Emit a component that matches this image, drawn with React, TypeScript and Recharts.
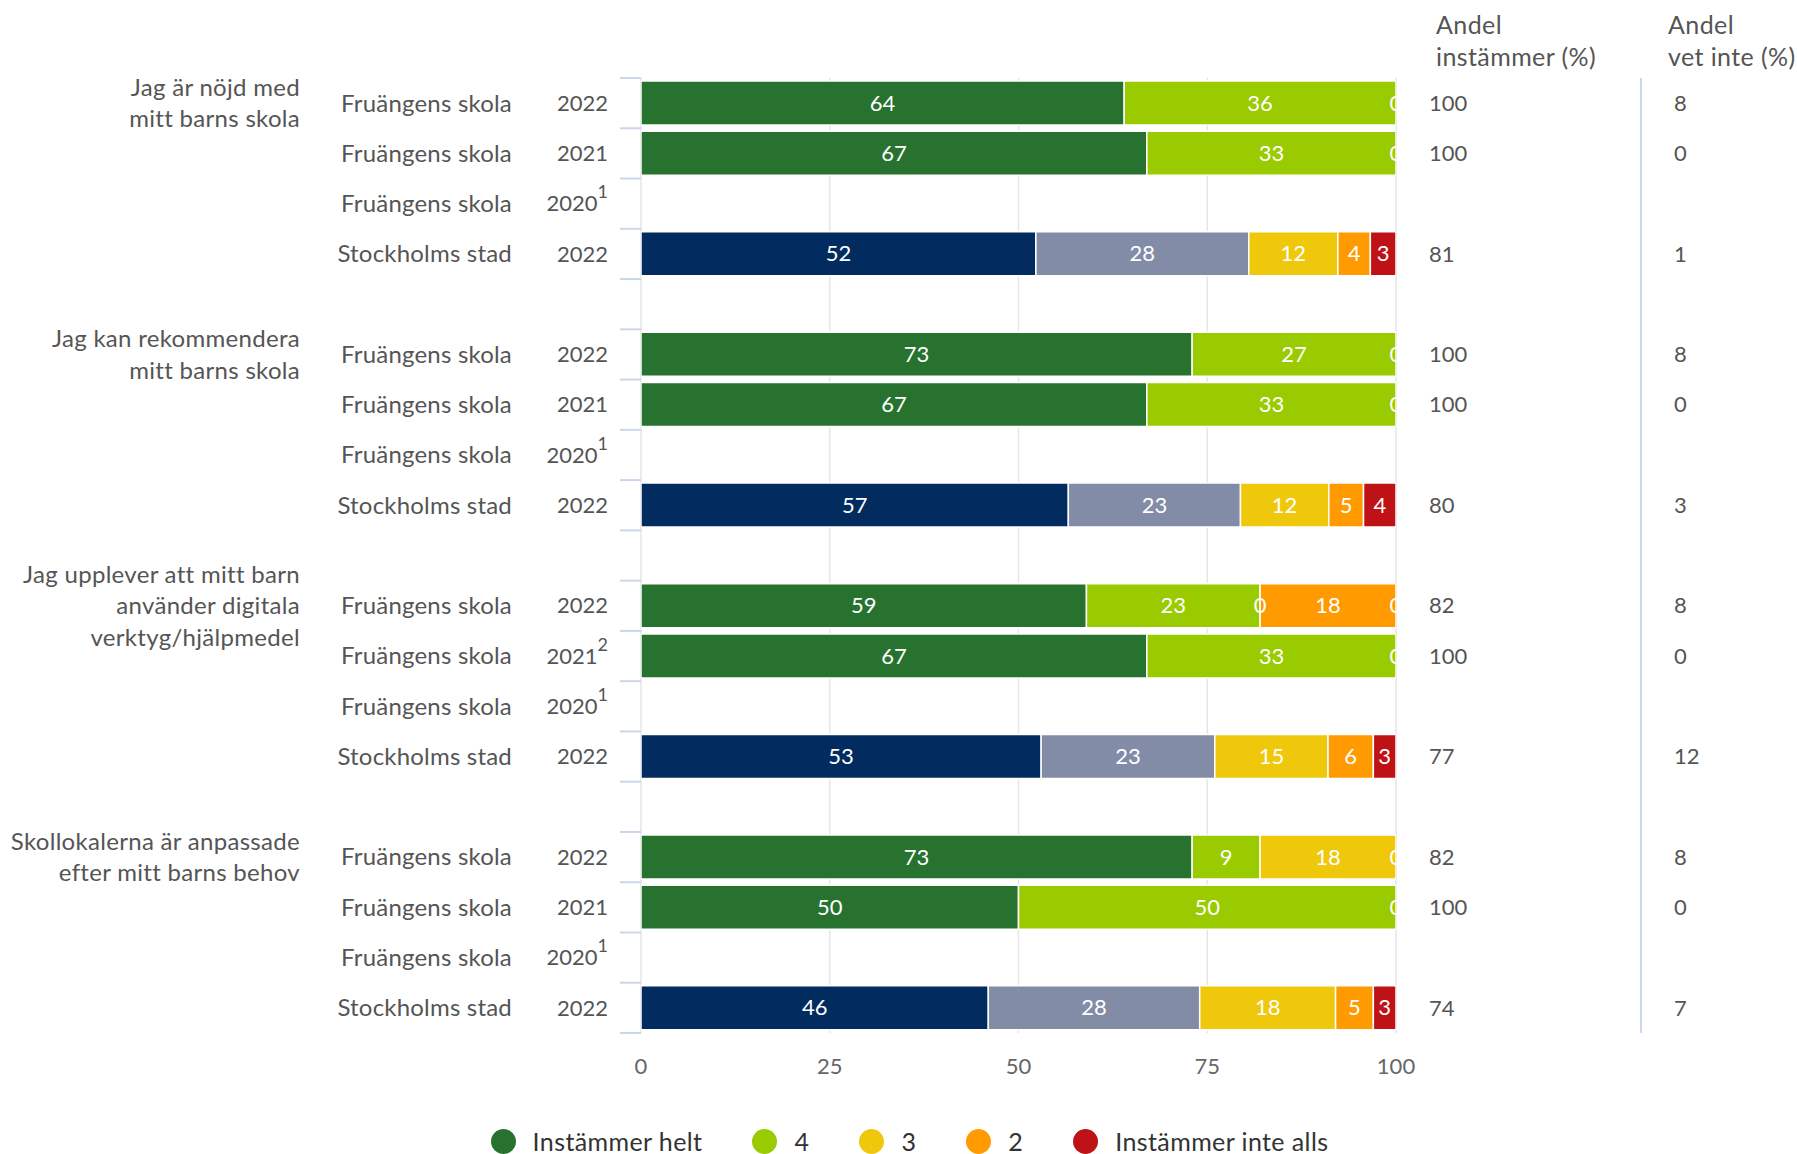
import React from "react";
import { BarChart, Bar, XAxis, YAxis, CartesianGrid, LabelList, Cell, Legend } from "recharts";

const FONT = "Lato, 'Open Sans', sans-serif";
const TEXT = "#555555";

// Questions (group labels), units and years
const questions = [
  ["Jag är nöjd med", "mitt barns skola"],
  ["Jag kan rekommendera", "mitt barns skola"],
  ["Jag upplever att mitt barn", "använder digitala", "verktyg/hjälpmedel"],
  ["Skollokalerna är anpassade", "efter mitt barns behov"],
];
const units = ["Fruängens skola", "Fruängens skola", "Fruängens skola", "Stockholms stad"];
const years = ["2022", "2021", "2020", "2022"];
const footnotes = [
  ["", "", "1", ""],
  ["", "", "1", ""],
  ["", "2", "1", ""],
  ["", "", "1", ""],
];

// Series values, 4 rows per question (2020 has no data)
const helt = [64, 67, null, 52.3, 73, 67, null, 56.6, 59, 67, null, 53, 73, 50, null, 46];
const fyra = [36, 33, null, 28.2, 27, 33, null, 22.8, 23, 33, null, 23, 9, 50, null, 28];
const tre = [0, 0, null, 11.8, 0, 0, null, 11.7, 0, 0, null, 15, 18, 0, null, 18];
const tva = [0, 0, null, 4.3, 0, 0, null, 4.6, 18, 0, null, 6, 0, 0, null, 5];
const inteAlls = [0, 0, null, 3.4, 0, 0, null, 4.3, 0, 0, null, 3, 0, 0, null, 3];

const andelInstammer = [100, 100, null, 81, 100, 100, null, 80, 82, 100, null, 77, 82, 100, null, 74];
const andelVetInte = [8, 0, null, 1, 8, 0, null, 3, 8, 0, null, 12, 8, 0, null, 7];

const xTicks = [0, 25, 50, 75, 100];

const series = [
  { key: "helt", name: "Instämmer helt", color: "#27722f", cityColor: "#022b60", values: helt },
  { key: "fyra", name: "4", color: "#9acb00", cityColor: "#838ca6", values: fyra },
  { key: "tre", name: "3", color: "#f0c80b", cityColor: "#f0c80b", values: tre },
  { key: "tva", name: "2", color: "#ff9a00", cityColor: "#ff9a00", values: tva },
  { key: "inte", name: "Instämmer inte alls", color: "#bf1217", cityColor: "#bf1217", values: inteAlls },
];

type Row = { [k: string]: any };

const rows: Row[] = [];
questions.forEach((q, g) => {
  if (g > 0) rows.push({ key: `gap${g}` });
  units.forEach((unit, r) => {
    const i = g * 4 + r;
    const row: Row = {
      key: `q${g}r${r}`,
      question: r === 0 ? q : null,
      unit,
      year: years[r],
      note: footnotes[g][r],
      city: unit === "Stockholms stad",
      ins: andelInstammer[i],
      vet: andelVetInte[i],
    };
    series.forEach((s) => {
      row[s.key] = s.values[i];
    });
    rows.push(row);
  });
});

const findRow = (value: string) => rows.find((r) => r.key === value) || {};

function LeftTick(props: any) {
  const { x, y, payload, index } = props;
  const row = findRow(payload.value);
  const half = payload.offset || 25.1;
  const last = index === rows.length - 1;
  const lines: string[] | null = row.question;
  return (
    <g fontFamily={FONT} fill={TEXT}>
      <line x1={x - 21} x2={x} y1={y - half} y2={y - half} stroke="#ccd6eb" strokeWidth={2} />
      {last && <line x1={x - 21} x2={x} y1={y + half} y2={y + half} stroke="#ccd6eb" strokeWidth={2} />}
      {row.unit && (
        <text x={x - 129} y={y} dy="0.35em" textAnchor="end" fontSize={24} letterSpacing={0.2}>
          {row.unit}
        </text>
      )}
      {row.year && (
        <text x={x - 33} y={y} dy="0.35em" textAnchor="end" fontSize={22}>
          {row.year}
          {row.note && (
            <tspan dy={-13} fontSize={18}>
              {row.note}
            </tspan>
          )}
        </text>
      )}
      {lines &&
        lines.map((line, k) => (
          <text
            key={k}
            x={x - 341}
            y={y + (k - (lines.length - 1) / 2) * 31.5}
            dy="0.35em"
            textAnchor="end"
            fontSize={24}
            letterSpacing={0.3}
          >
            {line}
          </text>
        ))}
    </g>
  );
}

function RightTick(props: any) {
  const { x, y, payload, field, dx } = props;
  const row = findRow(payload.value);
  if (row[field] == null) return null;
  return (
    <text x={x + dx} y={y} dy="0.35em" fontFamily={FONT} fontSize={22} fill={TEXT}>
      {row[field]}
    </text>
  );
}

function ColumnHeader(props: any) {
  const { viewBox, lines, dx } = props;
  const x = (viewBox?.x || 0) + dx;
  return (
    <g fontFamily={FONT} fontSize={25} fill={TEXT} letterSpacing={0.4}>
      {lines.map((l: string, k: number) => (
        <text key={k} x={x} y={25 + k * 32} dy="0.35em">
          {l}
        </text>
      ))}
    </g>
  );
}

// Label for one segment; also shows "0" where the following series is empty
function SegmentLabel(props: any) {
  const { x, y, width, height, value, si } = props;
  const row = findRow(value);
  const s = series[si];
  const v = row[s.key];
  if (v == null || !(v > 0)) return null;
  const next = series[si + 1];
  const cy = y + height / 2;
  const style = { fontFamily: FONT, fontSize: 22, fill: "#ffffff" };
  return (
    <g>
      <text x={x + width / 2} y={cy} dy="0.35em" textAnchor="middle" {...style}>
        {Math.round(v)}
      </text>
      {next && row[next.key] === 0 && (
        <text x={x + width} y={cy} dy="0.35em" textAnchor="middle" {...style}>
          0
        </text>
      )}
    </g>
  );
}

function LegendContent() {
  return (
    <div
      style={{
        display: "flex",
        justifyContent: "center",
        alignItems: "center",
        gap: 50,
        paddingLeft: 22,
        fontFamily: FONT,
        fontSize: 25,
        letterSpacing: 0.4,
        color: "#333",
      }}
    >
      {series.map((s) => (
        <div key={s.key} style={{ display: "flex", alignItems: "center" }}>
          <span
            style={{
              width: 25,
              height: 25,
              borderRadius: "50%",
              background: s.color,
              display: "inline-block",
              marginRight: 17,
            }}
          />
          <span>{s.name}</span>
        </div>
      ))}
    </div>
  );
}

export default function App() {
  return (
    <div style={{ position: "absolute", left: 0, top: 0, width: 1797, height: 1154, background: "#fff", fontFamily: FONT }}>
      <BarChart
        width={1797}
        height={1154}
        data={rows}
        layout="vertical"
        margin={{ top: 78, right: 0, bottom: 71, left: 0 }}
        style={{ fontFamily: FONT }}
      >
        <CartesianGrid yAxisId="main" horizontal={false} stroke="#e6e6e6" strokeWidth={1.5} />
        <XAxis
          type="number"
          domain={[0, 100]}
          ticks={xTicks}
          allowDataOverflow
          tickLine={false}
          axisLine={false}
          tickSize={0}
          tickMargin={25}
          height={50}
          tick={{ fill: "#666", fontSize: 22, fontFamily: FONT }}
        />
        <YAxis
          yAxisId="main"
          type="category"
          dataKey="key"
          width={641}
          interval={0}
          tickLine={false}
          axisLine={false}
          tickSize={0}
          tickMargin={0}
          tick={<LeftTick />}
        />
        <YAxis
          yAxisId="ins"
          orientation="right"
          type="category"
          dataKey="key"
          width={245}
          interval={0}
          tickLine={false}
          axisLine={false}
          tickSize={0}
          tickMargin={0}
          tick={<RightTick field="ins" dx={33} />}
          label={<ColumnHeader lines={["Andel", "instämmer (%)"]} dx={40} />}
        />
        <YAxis
          yAxisId="vet"
          orientation="right"
          type="category"
          dataKey="key"
          width={156}
          interval={0}
          tickLine={false}
          axisLine={{ stroke: "#ccd6eb", strokeWidth: 2 }}
          tickSize={0}
          tickMargin={0}
          tick={<RightTick field="vet" dx={33} />}
          label={<ColumnHeader lines={["Andel", "vet inte (%)"]} dx={27} />}
        />
        {series.map((s, si) => (
          <Bar
            key={s.key}
            dataKey={s.key}
            name={s.name}
            stackId="a"
            yAxisId="main"
            barSize={44}
            fill={s.color}
            stroke="#ffffff"
            strokeWidth={1.5}
            isAnimationActive={false}
          >
            {rows.map((r) => (
              <Cell key={r.key} fill={r.city ? s.cityColor : s.color} />
            ))}
            <LabelList dataKey="key" content={<SegmentLabel si={si} />} />
          </Bar>
        ))}
        <Legend
          layout="horizontal"
          verticalAlign="middle"
          align="center"
          wrapperStyle={{ top: 1126, left: 0, width: 1797 }}
          content={() => <LegendContent />}
        />
      </BarChart>
    </div>
  );
}
